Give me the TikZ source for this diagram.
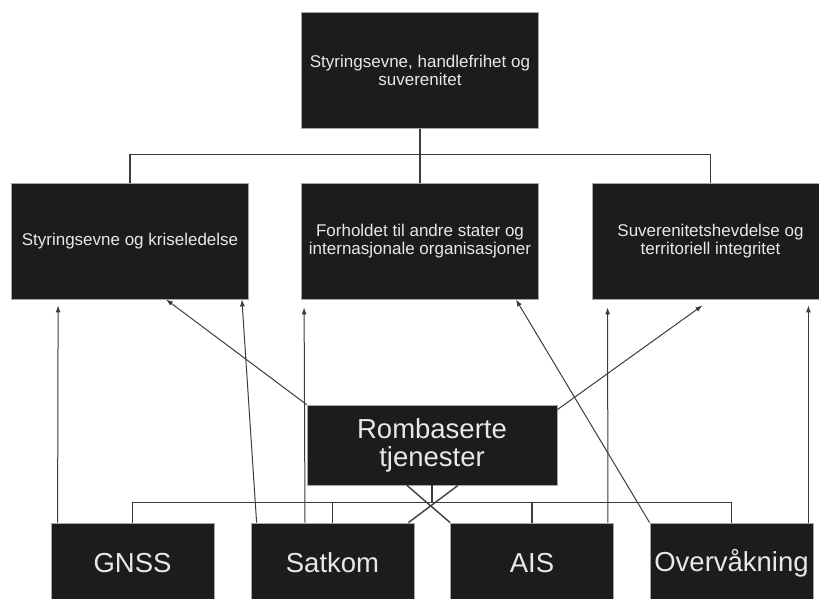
\documentclass[tikz,border=0pt]{standalone}
\usepackage{fontspec}
\setmainfont{Liberation Sans}
\usetikzlibrary{arrows.meta}
\definecolor{boxfill}{HTML}{1C1C1C}
\definecolor{boxtext}{HTML}{E8E8E8}
\definecolor{linegray}{HTML}{3C3C3C}
\tikzset{
  box/.style={draw=gray!70, line width=0.8pt, fill=boxfill, text=boxtext, align=center, inner sep=0pt},
  small/.style={box, minimum width=237pt, minimum height=116pt, font=\fontsize{17}{17.5}\selectfont},
  large/.style={box, minimum width=163pt, minimum height=80pt, font=\fontsize{27.5}{28}\selectfont},
  link/.style={draw=linegray, line width=1.4pt},
  arr/.style={draw=linegray, line width=1pt, -{Latex[length=7pt,width=5pt]}}
}

\begin{document}
\begin{tikzpicture}[x=1pt, y=-1pt]
\clip (0,0) rectangle (819,599);
\node[small] (goal) at (420,70.5) {Styringsevne, handlefrihet og\\suverenitet};
\node[small] (styr) at (130,241) {Styringsevne og kriseledelse};
\node[small] (forh) at (420,241) {Forholdet til andre stater og\\internasjonale organisasjoner};
\node[small] (suv) at (710.5,241) {Suverenitetshevdelse og\\territoriell integritet};
\node[large, minimum width=250pt] (rom) at (432,445) {Rombaserte\\tjenester};
\node[large] (gnss) at (132.5,563) {GNSS};
\node[large] (sat) at (332.5,563) {Satkom};
\node[large] (ais) at (532,563) {AIS};
\node[large] (ovr) at (731.5,563) {Overvåkning};
\draw[link] (goal.south) -- (forh.north);
\draw[link] (styr.north) -- ++(0,-28) -| (suv.north);
\draw[link] (rom.south) -- ++(0,18);
\draw[link] (gnss.north) -- ++(0,-20) -| (ovr.north);
\draw[link] (sat.north) -- ++(0,-20);
\draw[link] (ais.north) -- ++(0,-20);
\draw[link] ([xshift=-25pt]rom.south) -- (ais.north west);
\draw[link] ([xshift=26pt]rom.south) -- ([xshift=-6pt]sat.north east);
\draw[arr] ([xshift=7pt]gnss.north west) -- ([xshift=47pt,yshift=-6pt]styr.south west);
\draw[arr] ([xshift=6pt]sat.north west) -- ([xshift=-7pt]styr.south east);
\draw[arr] ([xshift=-27.5pt]sat.north) -- ([xshift=3pt,yshift=-8pt]forh.south west);
\draw[arr] (rom.north west) -- ([xshift=36pt]styr.south);
\draw[arr] ([yshift=-5pt]rom.north east) -- ([xshift=-8pt,yshift=-6pt]suv.south);
\draw[arr] ([xshift=-6pt]ais.north east) -- ([xshift=16pt,yshift=-8pt]suv.south west);
\draw[arr] (ovr.north west) -- ([xshift=-23pt]forh.south east);
\draw[arr] ([xshift=-5pt]ovr.north east) -- ([xshift=-21pt,yshift=-6pt]suv.south east);
\end{tikzpicture}
\end{document}
